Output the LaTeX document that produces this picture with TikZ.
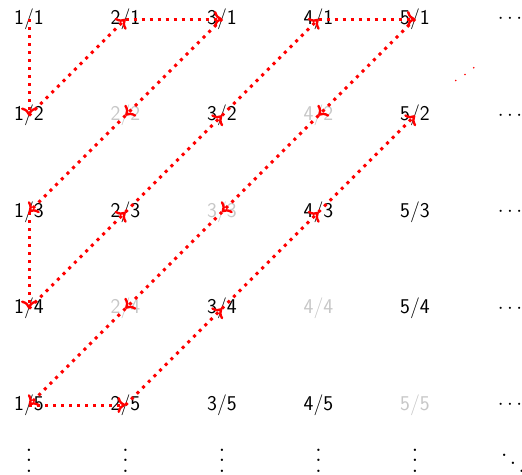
\documentclass[tikz,border=0pt]{standalone}
\usetikzlibrary{arrows.meta}
\begin{document}
\begin{tikzpicture}[x=1pt,y=-1pt,
  num/.style={font=\fontsize{21}{25}\selectfont\sffamily, inner sep=0pt, anchor=center},
  dim/.style={num, text=black!22},
  bigdots/.style={font=\fontsize{8.5}{10}\selectfont, scale=2.6, inner sep=0pt, anchor=base},
  arr/.style={draw=red, line width=3pt, dash pattern=on 3pt off 5pt, -{To[length=8pt,width=16pt,line width=2.4pt]}}]
\useasboundingbox (0,0) rectangle (522,474);
% columns: 29, 125.5, 222, 318.5, 415 ; rows: 19, 115.5, 212, 308.5, 405
\node[num] (n11) at (29,19) {1/1};
\node[num] (n21) at (125.5,19) {2/1};
\node[num] (n31) at (222,19) {3/1};
\node[num] (n41) at (318.5,19) {4/1};
\node[num] (n51) at (415,19) {5/1};
\node[num] (n12) at (29,115.5) {1/2};
\node[dim] (n22) at (125.5,115.5) {2/2};
\node[num] (n32) at (222,115.5) {3/2};
\node[dim] (n42) at (318.5,115.5) {4/2};
\node[num] (n52) at (415,115.5) {5/2};
\node[num] (n13) at (29,212) {1/3};
\node[num] (n23) at (125.5,212) {2/3};
\node[dim] (n33) at (222,212) {3/3};
\node[num] (n43) at (318.5,212) {4/3};
\node[num] (n53) at (415,212) {5/3};
\node[num] (n14) at (29,308.5) {1/4};
\node[dim] (n24) at (125.5,308.5) {2/4};
\node[num] (n34) at (222,308.5) {3/4};
\node[dim] (n44) at (318.5,308.5) {4/4};
\node[num] (n54) at (415,308.5) {5/4};
\node[num] (n15) at (29,405) {1/5};
\node[num] (n25) at (125.5,405) {2/5};
\node[num] (n35) at (222,405) {3/5};
\node[num] (n45) at (318.5,405) {4/5};
\node[dim] (n55) at (415,405) {5/5};
% dots
\node[num] (h1) at (510,19) {$\cdots$};
\node[num] (h2) at (510,115.5) {$\cdots$};
\node[num] (h3) at (510,212) {$\cdots$};
\node[num] (h4) at (510,308.5) {$\cdots$};
\node[num] (h5) at (510,405) {$\cdots$};
\node[bigdots] (v1) at (29,472) {$\vdots$};
\node[bigdots] (v2) at (125.5,472) {$\vdots$};
\node[bigdots] (v3) at (222,472) {$\vdots$};
\node[bigdots] (v4) at (318.5,472) {$\vdots$};
\node[bigdots] (v5) at (415,472) {$\vdots$};
\node[bigdots] (dd) at (513,475) {$\ddots$};
\fill[red] (455.7,80.5) circle (0.9pt) (465,74.5) circle (0.9pt) (473.7,67.7) circle (0.9pt);
% path
\draw[arr] (n11.center) -- (n12.center);
\draw[arr] (n12.center) -- (n21.center);
\draw[arr] (n21.center) -- (n31.center);
\draw[arr] (n31.center) -- (n22.center);
\draw[arr] (n22.center) -- (n13.center);
\draw[arr] (n13.center) -- (n14.center);
\draw[arr] (n14.center) -- (n23.center);
\draw[arr] (n23.center) -- (n32.center);
\draw[arr] (n32.center) -- (n41.center);
\draw[arr] (n41.center) -- (n51.center);
\draw[arr] (n51.center) -- (n42.center);
\draw[arr] (n42.center) -- (n33.center);
\draw[arr] (n33.center) -- (n24.center);
\draw[arr] (n24.center) -- (n15.center);
\draw[arr] (n15.center) -- (n25.center);
\draw[arr] (n25.center) -- (n34.center);
\draw[arr] (n34.center) -- (n43.center);
\draw[arr] (n43.center) -- (n52.center);
\end{tikzpicture}
\end{document}
